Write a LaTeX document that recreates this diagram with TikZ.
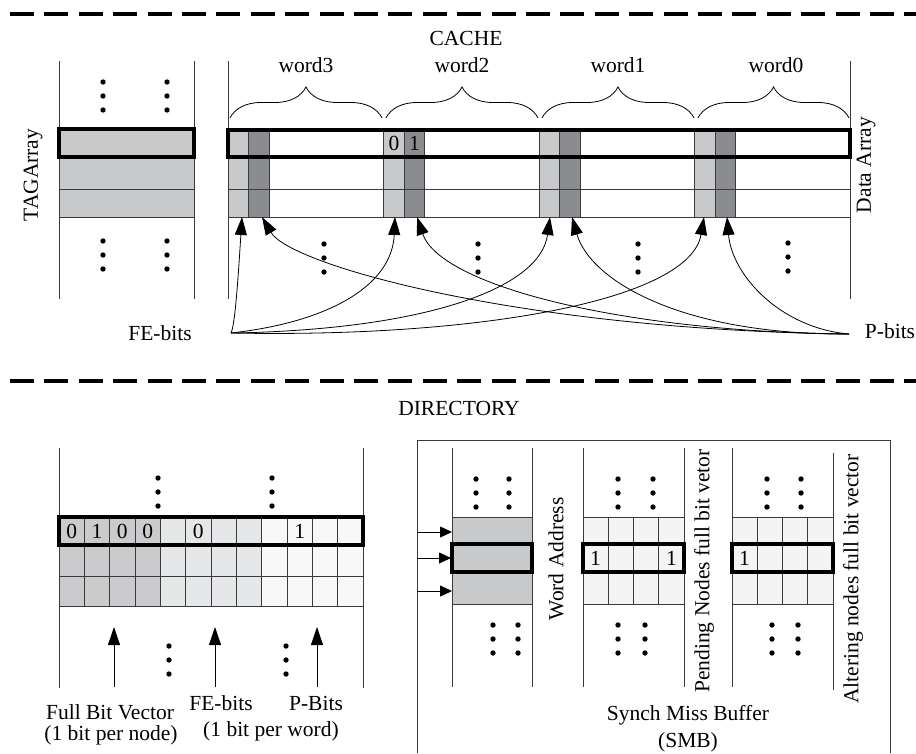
\documentclass[tikz,border=0pt]{standalone}
\usepackage{fontspec}
\setmainfont{Liberation Serif}
\usetikzlibrary{arrows.meta,decorations.pathreplacing}

\definecolor{cellA}{HTML}{C8C9CB}
\definecolor{cellB}{HTML}{8B8C8F}
\definecolor{dirA}{HTML}{CBCBCD}
\definecolor{dirB}{HTML}{E6E7E8}
\definecolor{dirC}{HTML}{F8F8F8}
\definecolor{smbcell}{HTML}{F4F4F4}
\definecolor{rule}{HTML}{3A3A3A}

% three stacked dots
\newcommand\dotstack[2]{%
  \fill (#1,#2) circle[radius=2.7pt] (#1,#2+14) circle[radius=2.7pt] (#1,#2+28) circle[radius=2.7pt];}

\begin{document}
\begin{tikzpicture}[x=1pt,y=-1pt,
  txt/.style={font=\fontsize{21.5}{24}\selectfont, inner sep=0pt},
  vtxt/.style={txt, rotate=90},
  gridline/.style={draw=rule, line width=0.9pt},
  selbox/.style={draw=black, line width=3.5pt},
  sepline/.style={line width=4.6pt, dash pattern=on 24pt off 10.4pt},
  bigarrow/.style={-{Triangle[length=18pt,width=12pt]}, line width=0.8pt},
  smallarrow/.style={-{Triangle[length=12pt,width=11pt]}, line width=0.8pt},
  wbrace/.style={decorate, decoration={brace, amplitude=31pt}, line width=0.8pt}]
\useasboundingbox (0,0) rectangle (916,753);

% ---------- separators ----------
\draw[sepline] (10,14) -- (916,14);
\draw[sepline] (10,381) -- (916,381);

% ---------- CACHE ----------
\node[txt] (cache) at (466,38) {CACHE};

% tag array
\fill[cellA] (59,129) rectangle (194,217);
\draw[gridline] (59,61) -- (59,299) (194,61) -- (194,299);
\draw[gridline] (59,189) -- (194,189) (59,217) -- (194,217);
\draw[selbox] (59,129) rectangle (194,157);
\dotstack{103}{82}\dotstack{167}{82}
\dotstack{103}{241}\dotstack{167}{241}
\node[vtxt] (tag) at (33,175) {TAGArray};

% data array: FE (light) and P (dark) columns of each word
\foreach \x in {228,383.5,539,694.5} {
  \fill[cellA] (\x,130) rectangle (\x+20.5,217);
  \fill[cellB] (\x+20.5,130) rectangle (\x+41,217);
  \draw[gridline] (\x,130) -- (\x,217) (\x+20.5,130) -- (\x+20.5,217) (\x+41,130) -- (\x+41,217);
}
\draw[gridline] (228,61) -- (228,299) (850,61) -- (850,299);
\draw[gridline] (228,189) -- (850,189) (228,217) -- (850,217);
\draw[selbox] (228,130) rectangle (850,157);
\node[txt] (b0) at (394,143) {0};
\node[txt] (b1) at (414.5,143) {1};
\node[vtxt] (data) at (866,165) {Data Array};

% word braces and labels
\draw[wbrace] (230,118) -- (382,118);
\draw[wbrace] (386,118) -- (538,118);
\draw[wbrace] (542,118) -- (694,118);
\draw[wbrace] (698,118) -- (849,118);
\node[txt] (w3) at (306,65) {word3};
\node[txt] (w2) at (462,65) {word2};
\node[txt] (w1) at (618,65) {word1};
\node[txt] (w0) at (776,65) {word0};

\dotstack{324}{244}\dotstack{478}{244}\dotstack{638}{244}\dotstack{788}{243}

% FE / P bit pointers
\node[txt] (fel) at (160,333) {FE-bits};
\node[txt] (pl) at (890,331) {P-bits};
\coordinate (fe) at (231,333);
\coordinate (pb) at (849,334);
\coordinate (l3) at (242,217);  \coordinate (d3) at (262,217);
\coordinate (l2) at (395,217);  \coordinate (d2) at (417,217);
\coordinate (l1) at (550,217);  \coordinate (d1) at (572,217);
\coordinate (l0) at (704,217);  \coordinate (d0) at (727,217);

\draw[bigarrow] (fe) .. controls (235,325) and (238,280) .. (l3);
\draw[bigarrow] (fe) .. controls (330,322) and (392,285) .. (l2);
\draw[bigarrow] (fe) .. controls (420,330) and (540,290) .. (l1);
\draw[bigarrow] (fe) .. controls (480,338) and (690,300) .. (l0);
\draw[bigarrow] (pb) .. controls (780,328) and (732,275) .. (d0);
\draw[bigarrow] (pb) .. controls (680,335) and (590,280) .. (d1);
\draw[bigarrow] (pb) .. controls (620,332) and (440,285) .. (d2);
\draw[bigarrow] (pb) .. controls (520,330) and (290,265) .. (d3);

% ---------- DIRECTORY ----------
\node[txt] (dir) at (459,408) {DIRECTORY};

% full bit vector / FE / P directory entries
\fill[dirA] (59,517) rectangle (160.33,606);
\fill[dirB] (160.33,517) rectangle (261.67,606);
\fill[dirC] (261.67,517) rectangle (363,606);
\foreach \i in {1,...,11}
  \draw[gridline] (59+\i*25.333,517) -- (59+\i*25.333,606);
\draw[gridline] (59,576) -- (363,576) (59,606) -- (363,606);
\draw[gridline] (59,448) -- (59,688) (363,448) -- (363,688);
\draw[selbox] (59,517) rectangle (363,545);
\foreach \i/\v in {0/0,1/1,2/0,3/0,5/0,9/1}
  \node[txt] (dbit\i) at (59+12.67+\i*25.333,531) {\v};
\dotstack{158}{478}\dotstack{272}{478}
\dotstack{169}{646}\dotstack{286}{646}

\coordinate (fbv) at (114,687);  \coordinate (fbvt) at (114,627);
\coordinate (feb) at (215,687);  \coordinate (febt) at (215,627);
\coordinate (pbb) at (317,687);  \coordinate (pbbt) at (317,627);
\draw[bigarrow] (fbv) -- (fbvt);
\draw[bigarrow] (feb) -- (febt);
\draw[bigarrow] (pbb) -- (pbbt);
\node[txt] (fbvl) at (110,712) {Full Bit Vector};
\node[txt] (fbvn) at (111,735) {(1 bit per node)};
\node[txt] (febl) at (221,703) {FE-bits};
\node[txt] (pbbl) at (316,703) {P-Bits};
\node[txt] (febn) at (271,731) {(1 bit per word)};

% synch miss buffer frame
\draw[draw=rule, line width=0.9pt] (417,753) -- (417,440) -- (890,440) -- (890,753);

% word address column
\fill[cellA] (452,517) rectangle (532,604);
\draw[gridline] (452,517) -- (532,517) (452,604) -- (532,604);
\draw[gridline] (452,448) -- (452,687) (532,448) -- (532,687);
\draw[selbox] (452,544) rectangle (532,572);
\dotstack{476}{479}\dotstack{509}{479}
\dotstack{493}{625}\dotstack{518}{625}
\node[vtxt] (wa) at (556,559) {Word Address};
\coordinate (in1) at (417,532);  \coordinate (in1t) at (452,532);
\coordinate (in2) at (417,558);  \coordinate (in2t) at (451,558);
\coordinate (in3) at (417,591);  \coordinate (in3t) at (452,591);
\draw[smallarrow] (in1) -- (in1t);
\draw[smallarrow] (in2) -- (in2t);
\draw[smallarrow] (in3) -- (in3t);

% pending nodes vector
\fill[smbcell] (583,517) rectangle (684,604);
\foreach \i in {1,2,3}
  \draw[gridline] (583+\i*25.25,517) -- (583+\i*25.25,604);
\draw[gridline] (583,517) -- (684,517) (583,604) -- (684,604);
\draw[gridline] (583,448) -- (583,687) (684,448) -- (684,687);
\draw[selbox] (583,544) rectangle (684,572);
\node[txt] (pn1) at (595.6,558) {1};
\node[txt] (pn4) at (671.4,558) {1};
\dotstack{618}{479}\dotstack{653}{479}
\dotstack{618}{625}\dotstack{645}{625}
\node[vtxt] (pnl) at (704,571) {Pending Nodes full bit vetor};

% altering nodes vector
\fill[smbcell] (732,517) rectangle (833,604);
\foreach \i in {1,2,3}
  \draw[gridline] (732+\i*25.25,517) -- (732+\i*25.25,604);
\draw[gridline] (732,517) -- (833,517) (732,604) -- (833,604);
\draw[gridline] (732,448) -- (732,687) (833,453) -- (833,690);
\draw[selbox] (732,544) rectangle (833,572);
\node[txt] (an1) at (744.6,558) {1};
\dotstack{767}{479}\dotstack{801}{479}
\dotstack{772}{625}\dotstack{798}{625}
\node[vtxt] (anl) at (853,579) {Altering nodes full bit vector};

\node[txt] (smb) at (688,715) {Synch Miss Buffer};
\node[txt] (smbs) at (688,742) {(SMB)};
\end{tikzpicture}
\end{document}
